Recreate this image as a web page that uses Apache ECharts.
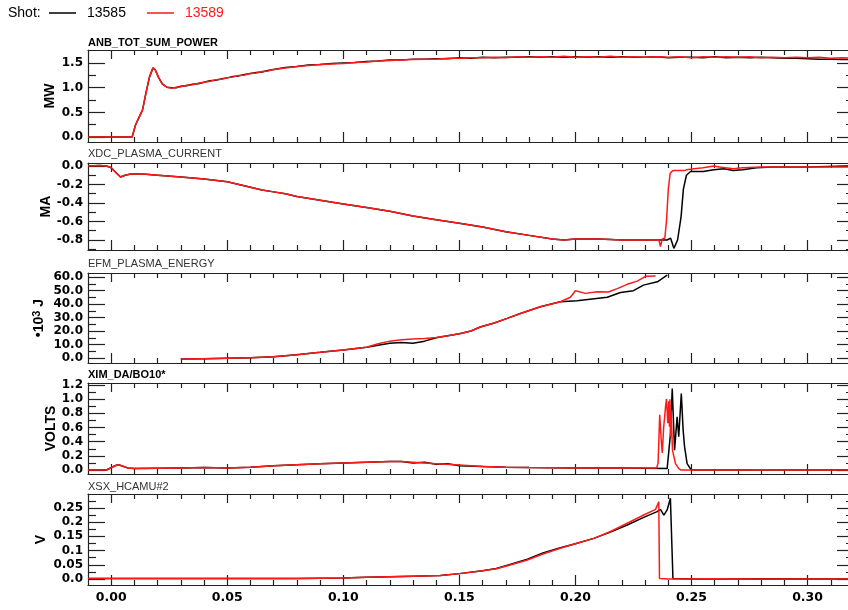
<!DOCTYPE html>
<html><head><meta charset="utf-8">
<script src="https://cdn.jsdelivr.net/npm/echarts@6/dist/echarts.min.js"></script>
<style>html,body{margin:0;padding:0;background:#fff}#c{width:848px;height:610px}</style>
</head><body><div id="c"></div><script>
// ---------------- data ----------------
const shots = ['13585', '13589'];
const panelTitles = ['ANB_TOT_SUM_POWER', 'XDC_PLASMA_CURRENT', 'EFM_PLASMA_ENERGY', 'XIM_DA/BO10*', 'XSX_HCAMU#2'];
const panelUnits = ['MW', 'MA', '•10{sup|3} J', 'VOLTS', 'V'];
const xMajorTicks = [0.00, 0.05, 0.10, 0.15, 0.20, 0.25, 0.30];
const xMinorTicks = [0.01,0.02,0.03,0.04,0.06,0.07,0.08,0.09,0.11,0.12,0.13,0.14,0.16,0.17,0.18,0.19,0.21,0.22,0.23,0.24,0.26,0.27,0.28,0.29,0.31];
const powerTicks = [0.0, 0.5, 1.0, 1.5];
const powerMinorTicks = [0.25, 0.75, 1.25];
const currentTicks = [-0.8, -0.6, -0.4, -0.2, 0.0];
const currentMinorTicks = [-0.9, -0.7, -0.5, -0.3, -0.1];
const energyTicks = [0, 10, 20, 30, 40, 50, 60];
const energyMinorTicks = [5, 15, 25, 35, 45, 55];
const voltsTicks = [0.0, 0.2, 0.4, 0.6, 0.8, 1.0, 1.2];
const voltsMinorTicks = [0.1, 0.3, 0.5, 0.7, 0.9, 1.1];
const vTicks = [0.0, 0.05, 0.1, 0.15, 0.2, 0.25];
const vMinorTicks = [0.025, 0.075, 0.125, 0.175, 0.225, 0.275];

const powerBlack = [[-0.010,0.00],[0.000,0.00],[0.009,0.00],[0.0095,0.03],[0.0105,0.25],[0.012,0.40],[0.0135,0.55],[0.015,0.90],[0.0165,1.22],[0.018,1.40],[0.019,1.36],[0.0205,1.20],[0.022,1.08],[0.024,1.01],[0.026,1.00],[0.028,1.00],[0.030,1.03],[0.0325,1.04],[0.035,1.07],[0.0375,1.08],[0.040,1.11],[0.0425,1.14],[0.045,1.15],[0.0475,1.18],[0.050,1.20],[0.0525,1.23],[0.055,1.24],[0.0575,1.27],[0.060,1.29],[0.0625,1.31],[0.065,1.32],[0.0675,1.35],[0.070,1.37],[0.075,1.41],[0.080,1.43],[0.085,1.46],[0.090,1.47],[0.095,1.49],[0.100,1.50],[0.105,1.51],[0.110,1.53],[0.115,1.54],[0.120,1.56],[0.125,1.56],[0.130,1.58],[0.135,1.58],[0.140,1.59],[0.145,1.59],[0.150,1.61],[0.155,1.60],[0.160,1.62],[0.165,1.61],[0.170,1.62],[0.175,1.62],[0.180,1.63],[0.185,1.62],[0.190,1.63],[0.195,1.62],[0.200,1.63],[0.205,1.62],[0.210,1.63],[0.215,1.62],[0.220,1.63],[0.225,1.62],[0.230,1.62],[0.235,1.63],[0.240,1.61],[0.245,1.62],[0.250,1.62],[0.255,1.61],[0.260,1.63],[0.265,1.61],[0.270,1.62],[0.275,1.61],[0.280,1.62],[0.285,1.61],[0.290,1.60],[0.295,1.60],[0.300,1.59],[0.305,1.58],[0.310,1.58],[0.315,1.57],[0.320,1.58]];
const powerRed = [[-0.010,0.00],[0.000,0.00],[0.009,0.00],[0.0095,0.03],[0.0105,0.25],[0.012,0.40],[0.0135,0.55],[0.015,0.90],[0.0165,1.22],[0.018,1.41],[0.019,1.36],[0.0205,1.20],[0.022,1.08],[0.024,1.01],[0.026,0.99],[0.028,1.01],[0.030,1.02],[0.0325,1.05],[0.035,1.06],[0.0375,1.09],[0.040,1.11],[0.0425,1.13],[0.045,1.16],[0.0475,1.17],[0.050,1.20],[0.0525,1.22],[0.055,1.25],[0.0575,1.26],[0.060,1.29],[0.0625,1.30],[0.065,1.33],[0.0675,1.34],[0.070,1.37],[0.075,1.40],[0.080,1.43],[0.085,1.45],[0.090,1.47],[0.095,1.48],[0.100,1.49],[0.105,1.51],[0.110,1.52],[0.115,1.54],[0.120,1.55],[0.125,1.56],[0.130,1.57],[0.135,1.58],[0.140,1.58],[0.145,1.60],[0.150,1.60],[0.155,1.61],[0.160,1.61],[0.165,1.62],[0.170,1.61],[0.175,1.63],[0.180,1.62],[0.185,1.63],[0.190,1.62],[0.195,1.64],[0.200,1.62],[0.205,1.63],[0.210,1.62],[0.215,1.64],[0.220,1.62],[0.225,1.63],[0.230,1.62],[0.235,1.63],[0.240,1.62],[0.245,1.63],[0.250,1.61],[0.255,1.63],[0.260,1.62],[0.265,1.63],[0.270,1.62],[0.275,1.63],[0.280,1.61],[0.285,1.62],[0.290,1.61],[0.295,1.62],[0.300,1.61],[0.305,1.62],[0.310,1.60],[0.315,1.61],[0.320,1.60]];

const currentBlack = [[-0.010,0.00],[-0.005,0.005],[-0.002,0.00],[0.000,-0.02],[0.002,-0.07],[0.004,-0.12],[0.006,-0.10],[0.009,-0.085],[0.015,-0.09],[0.020,-0.10],[0.030,-0.12],[0.040,-0.14],[0.050,-0.17],[0.055,-0.20],[0.060,-0.23],[0.065,-0.26],[0.070,-0.28],[0.075,-0.30],[0.080,-0.33],[0.090,-0.37],[0.100,-0.41],[0.110,-0.45],[0.120,-0.49],[0.130,-0.54],[0.140,-0.58],[0.150,-0.62],[0.160,-0.66],[0.170,-0.71],[0.180,-0.75],[0.190,-0.79],[0.195,-0.80],[0.200,-0.79],[0.210,-0.79],[0.220,-0.80],[0.230,-0.80],[0.2395,-0.80],[0.2410,-0.78],[0.2424,-0.89],[0.2440,-0.80],[0.2455,-0.55],[0.2465,-0.25],[0.2478,-0.10],[0.2496,-0.06],[0.2550,-0.06],[0.2596,-0.04],[0.2640,-0.03],[0.2680,-0.05],[0.2720,-0.04],[0.2780,-0.02],[0.2850,-0.01],[0.3000,-0.01],[0.3200,0.00]];
const currentRed = [[-0.010,0.00],[-0.005,0.005],[-0.002,0.00],[0.000,-0.02],[0.002,-0.07],[0.004,-0.12],[0.006,-0.10],[0.009,-0.085],[0.015,-0.09],[0.020,-0.10],[0.030,-0.12],[0.040,-0.14],[0.050,-0.17],[0.055,-0.20],[0.060,-0.23],[0.065,-0.26],[0.070,-0.28],[0.075,-0.30],[0.080,-0.33],[0.090,-0.37],[0.100,-0.41],[0.110,-0.45],[0.120,-0.49],[0.130,-0.54],[0.140,-0.58],[0.150,-0.62],[0.160,-0.66],[0.170,-0.71],[0.180,-0.75],[0.190,-0.79],[0.195,-0.80],[0.200,-0.79],[0.210,-0.79],[0.220,-0.80],[0.230,-0.80],[0.2360,-0.80],[0.2366,-0.87],[0.2374,-0.79],[0.2385,-0.78],[0.2392,-0.60],[0.2400,-0.25],[0.2408,-0.08],[0.2420,-0.05],[0.2470,-0.05],[0.2480,-0.04],[0.2510,-0.03],[0.2550,-0.02],[0.2596,0.00],[0.2620,-0.01],[0.2680,-0.03],[0.2720,-0.02],[0.2800,-0.01],[0.2900,-0.01],[0.3000,-0.01],[0.3200,-0.01]];

const energyBlack = [[0.030,-0.8],[0.040,-0.5],[0.050,-0.2],[0.060,0.1],[0.070,1.0],[0.080,2.5],[0.090,4.2],[0.100,6.0],[0.110,8.0],[0.115,9.5],[0.120,11.0],[0.125,11.5],[0.130,11.0],[0.135,12.5],[0.140,15.0],[0.145,16.5],[0.150,18.0],[0.155,20.0],[0.159,23.0],[0.165,26.0],[0.1706,29.4],[0.1763,33.0],[0.1849,38.0],[0.1935,41.7],[0.2007,42.5],[0.2137,45.0],[0.2194,48.6],[0.2250,49.9],[0.2293,54.0],[0.2353,56.5],[0.2395,61.5]];
const energyRed = [[0.030,-0.8],[0.040,-0.5],[0.050,-0.2],[0.060,0.1],[0.070,1.0],[0.080,2.5],[0.090,4.2],[0.100,6.0],[0.110,8.0],[0.115,10.5],[0.120,12.5],[0.125,13.5],[0.130,14.0],[0.135,14.5],[0.140,15.2],[0.145,16.5],[0.150,18.0],[0.155,20.0],[0.159,23.0],[0.165,26.0],[0.1706,29.4],[0.1763,33.0],[0.1849,38.0],[0.1935,41.7],[0.1978,45.0],[0.2000,49.9],[0.2043,47.9],[0.2094,49.1],[0.2142,48.9],[0.2180,51.4],[0.2223,54.6],[0.2266,57.0],[0.2302,60.5],[0.2345,60.7]];

const voltsBlack = [[-0.010,0.00],[-0.002,0.00],[0.0017,0.06],[0.003,0.075],[0.0045,0.06],[0.007,0.03],[0.010,0.02],[0.020,0.025],[0.030,0.03],[0.040,0.035],[0.050,0.03],[0.060,0.04],[0.070,0.06],[0.080,0.075],[0.090,0.09],[0.100,0.10],[0.110,0.11],[0.120,0.12],[0.125,0.12],[0.130,0.10],[0.135,0.11],[0.140,0.08],[0.145,0.09],[0.150,0.06],[0.160,0.05],[0.170,0.04],[0.180,0.035],[0.200,0.03],[0.220,0.03],[0.2395,0.02],[0.2409,0.50],[0.2417,1.15],[0.2427,0.28],[0.2438,0.75],[0.2445,0.47],[0.2456,1.08],[0.2464,0.56],[0.2470,0.33],[0.2481,0.09],[0.2499,0.00],[0.2600,0.00],[0.2800,0.005],[0.3000,0.00],[0.3200,0.00]];
const voltsRed = [[-0.010,0.00],[-0.002,0.00],[0.0017,0.06],[0.003,0.075],[0.0045,0.06],[0.007,0.03],[0.010,0.02],[0.020,0.025],[0.030,0.03],[0.040,0.035],[0.050,0.03],[0.060,0.04],[0.070,0.06],[0.080,0.075],[0.090,0.09],[0.100,0.10],[0.110,0.11],[0.120,0.12],[0.125,0.12],[0.130,0.11],[0.140,0.09],[0.150,0.07],[0.160,0.05],[0.170,0.04],[0.180,0.035],[0.200,0.03],[0.220,0.03],[0.2350,0.03],[0.2356,0.10],[0.2363,0.78],[0.2369,0.45],[0.2374,0.24],[0.2380,0.60],[0.2388,0.89],[0.2392,1.00],[0.2398,0.66],[0.2402,0.97],[0.2405,0.61],[0.2407,1.00],[0.2410,0.47],[0.2412,0.85],[0.2418,0.28],[0.2431,0.09],[0.2445,0.02],[0.2455,0.00],[0.2600,0.00],[0.2800,0.005],[0.3000,0.00],[0.3200,0.00]];

const vBlack = [[-0.010,0.002],[0.000,0.002],[0.050,0.002],[0.080,0.002],[0.090,0.003],[0.100,0.004],[0.110,0.006],[0.120,0.008],[0.130,0.010],[0.1418,0.012],[0.150,0.019],[0.160,0.029],[0.1659,0.037],[0.170,0.047],[0.1793,0.070],[0.186,0.092],[0.1935,0.110],[0.200,0.124],[0.2079,0.143],[0.2151,0.165],[0.2223,0.190],[0.2294,0.217],[0.2352,0.237],[0.2366,0.245],[0.2381,0.225],[0.2395,0.243],[0.2409,0.284],[0.2417,0.280],[0.2420,0.002],[0.2500,0.000],[0.2800,0.001],[0.3200,0.000]];
const vRed = [[-0.010,0.002],[0.000,0.002],[0.050,0.002],[0.080,0.002],[0.090,0.003],[0.100,0.004],[0.110,0.006],[0.120,0.008],[0.130,0.010],[0.1418,0.012],[0.150,0.019],[0.160,0.029],[0.1659,0.036],[0.170,0.045],[0.1793,0.067],[0.186,0.088],[0.1935,0.108],[0.200,0.124],[0.2079,0.143],[0.2151,0.167],[0.2223,0.196],[0.2294,0.225],[0.2345,0.245],[0.2352,0.250],[0.2359,0.272],[0.2362,0.002],[0.2400,0.000],[0.2600,0.001],[0.2800,0.000],[0.3200,0.000]];

// ---------------- layout / style ----------------
const X_MIN = -0.01, X_MAX = 0.32;
const fmt1 = v => v.toFixed(1);
const fmtV = v => (v === 0 ? '0.0' : String(v));
const panels = [
  {top: 50,  height: 92, min: -0.1,  max: 1.765, ticks: powerTicks,   minor: powerMinorTicks,   fmt: fmt1, black: powerBlack,   red: powerRed,   nameGap: 31, titleTop: 37,  bold: true},
  {top: 163, height: 87, min: -0.908, max: 0.032, ticks: currentTicks, minor: currentMinorTicks, fmt: fmt1, black: currentBlack, red: currentRed, nameGap: 35, titleTop: 148, bold: false},
  {top: 273, height: 90, min: -3.7,  max: 63.0,  ticks: energyTicks,  minor: energyMinorTicks,  fmt: fmt1, black: energyBlack,  red: energyRed,  nameGap: 41, titleTop: 258, bold: false},
  {top: 383, height: 91, min: -0.056, max: 1.228, ticks: voltsTicks,  minor: voltsMinorTicks,   fmt: fmt1, black: voltsBlack,   red: voltsRed,   nameGap: 30, titleTop: 369, bold: true},
  {top: 494, height: 91, min: -0.021, max: 0.299, ticks: vTicks,      minor: vMinorTicks,       fmt: fmtV, black: vBlack,       red: vRed,       nameGap: 40, titleTop: 481, bold: false}
];
const AX = '#222';
const SANS = '"Liberation Sans", Arial, sans-serif';
const LBL = '"DejaVu Sans", sans-serif';
const colors = ['#000000', '#ff1a1a'];

const grids = [], xAxes = [], yAxes = [], series = [], titles = [];
panels.forEach((p, i) => {
  const last = i === panels.length - 1;
  grids.push({left: 88, right: -6, top: p.top, height: p.height, containLabel: false, outerBoundsMode: 'none'});
  const xa = (pos, vals, len, line, labels) => ({
    type: 'value', gridIndex: i, position: pos, min: X_MIN, max: X_MAX,
    axisLine: {show: line, onZero: false, lineStyle: {color: AX, width: 1.2}},
    splitLine: {show: false},
    axisTick: {show: true, inside: true, length: len, customValues: vals, lineStyle: {color: AX, width: 1.2}},
    axisLabel: labels ? {show: true, customValues: xMajorTicks, formatter: v => v.toFixed(2), margin: 6,
      fontFamily: LBL, fontWeight: 'bold', fontSize: 12.5, color: '#000'} : {show: false}
  });
  xAxes.push(xa('bottom', xMajorTicks, 10, true, last));
  xAxes.push(xa('top', xMajorTicks, 9, true, false));
  xAxes.push(xa('bottom', xMinorTicks, 5, false, false));
  xAxes.push(xa('top', xMinorTicks, 5, false, false));
  const ya = (pos, vals, len, line, labels) => ({
    type: 'value', gridIndex: i, position: pos, min: p.min, max: p.max,
    axisLine: {show: line, onZero: false, lineStyle: {color: AX, width: 1.2}},
    splitLine: {show: false},
    axisTick: {show: true, inside: true, length: len, customValues: vals, lineStyle: {color: AX, width: 1.2}},
    axisLabel: labels ? {show: true, customValues: p.ticks, formatter: p.fmt, margin: 5,
      fontFamily: LBL, fontWeight: 'bold', fontSize: 12, color: '#000'} : {show: false},
    name: labels ? panelUnits[i] : '',
    nameLocation: 'middle', nameGap: p.nameGap, nameMoveOverlap: false,
    nameTextStyle: {fontFamily: SANS, fontWeight: 'bold', fontSize: 14, color: '#000',
      rich: {sup: {fontFamily: SANS, fontWeight: 'bold', fontSize: 11, color: '#000', verticalAlign: 'top', padding: [0, 0, 5, 0]}}}
  });
  yAxes.push(ya('left', p.ticks, 17, true, true));
  yAxes.push(ya('left', p.minor, 8, false, false));
  yAxes.push(ya('right', p.ticks, 17, true, false));
  yAxes.push(ya('right', p.minor, 8, false, false));
  [p.black, p.red].forEach((d, k) => {
    series.push({
      name: shots[k], type: 'line', xAxisIndex: i * 4, yAxisIndex: i * 4, data: d,
      showSymbol: false, symbol: 'none', clip: true, animation: false,
      lineStyle: {color: colors[k], width: 1.5}, itemStyle: {color: colors[k]}, z: 2 + k
    });
  });
  titles.push({text: panelTitles[i], left: 88, top: p.titleTop, padding: 0,
    textStyle: {fontFamily: SANS, fontSize: 11, fontWeight: p.bold ? 'bold' : 'normal', color: p.bold ? '#000' : '#333'}});
});

const chart = echarts.init(document.getElementById('c'), null, {renderer: 'canvas'});
chart.setOption({
  animation: false,
  backgroundColor: '#fff',
  title: titles,
  legend: {
    left: 49, top: 6, padding: 0, itemWidth: 27, itemHeight: 1.5, itemGap: 21, icon: 'rect',
    data: [{name: shots[0], textStyle: {color: colors[0]}}, {name: shots[1], textStyle: {color: colors[1]}}],
    textStyle: {fontFamily: SANS, fontSize: 14, padding: [0, 0, 0, 6]}
  },
  graphic: [{type: 'text', left: 8, top: 6, style: {text: 'Shot:', font: '14px "Liberation Sans", Arial, sans-serif', fill: '#000'}}],
  grid: grids,
  xAxis: xAxes,
  yAxis: yAxes,
  series: series
});
</script></body></html>
